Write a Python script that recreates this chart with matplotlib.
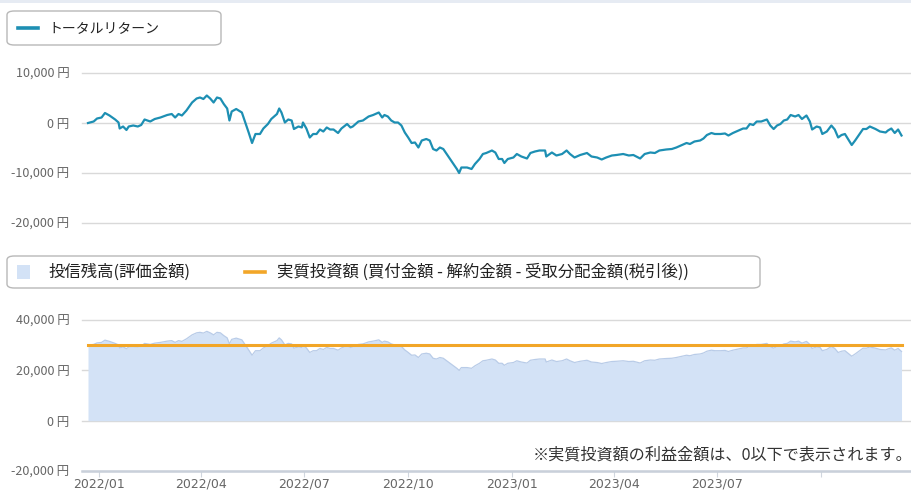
import datetime as dt

import matplotlib
matplotlib.use("Agg")
import matplotlib.dates as mdates
import matplotlib.pyplot as plt
import matplotlib.ticker as mticker
from matplotlib.lines import Line2D
from matplotlib.patches import FancyBboxPatch, Rectangle

plt.rcParams["font.family"] = ["Noto Sans CJK JP", "DejaVu Sans"]

# ---------------------------------------------------------------------------
# Data
# ---------------------------------------------------------------------------
START_DATE = dt.date(2021, 12, 22)

# days since START_DATE
DAY = [
    0, 5, 8, 12, 15, 19, 24, 27, 28, 31, 34, 36, 40, 44, 47, 50, 55, 59, 64, 70,
    74, 77, 80, 83, 87, 92, 96, 99, 102, 105, 108, 111, 114, 117, 120, 123, 125,
    127, 131, 136, 139, 142, 145, 148, 152, 155, 159, 162, 167, 169, 171, 174,
    177, 180, 182, 186, 189, 190, 193, 196, 199, 202, 205, 208, 211, 214, 217,
    221, 224, 229, 232, 234, 239, 243, 248, 252, 257, 260, 262, 265, 268, 271,
    274, 277, 280, 283, 286, 289, 292, 295, 299, 302, 305, 308, 311, 314, 317,
    320, 323, 326, 328, 330, 335, 339, 342, 346, 349, 352, 357, 360, 363, 366,
    368, 371, 376, 379, 383, 388, 391, 395, 399, 404, 405, 410, 414, 419, 423,
    426, 430, 435, 441, 445, 450, 454, 458, 463, 467, 473, 478, 482, 488, 492,
    497, 501, 505, 511, 516, 520, 525, 529, 532, 536, 541, 544, 547, 551, 554,
    559, 563, 566, 570, 575, 579, 582, 585, 588, 591, 595, 600, 603, 606, 609,
    612, 615, 618, 621, 625, 628, 631, 635, 638, 640, 644, 647, 649, 653, 657,
    660, 663, 666, 669, 672, 675, 678, 681, 685, 688, 691, 696, 700, 705, 707,
    710, 713, 716, 719,
]

# total return (円)
RETURN = [
    0, 300, 900, 1100, 2000, 1500, 700, 100, -1100, -700, -1400, -700, -500,
    -700, -400, 700, 300, 800, 1100, 1600, 1800, 1100, 1800, 1500, 2500, 4100,
    4900, 5100, 4800, 5500, 4900, 4100, 5100, 4900, 3800, 2900, 500, 2300, 2800,
    2100, 100, -1900, -4000, -2200, -2200, -1100, -200, 800, 1800, 2900, 2100,
    100, 700, 500, -1200, -700, -900, 100, -1100, -2900, -2200, -2200, -1300,
    -1700, -900, -1300, -1300, -2000, -1100, -200, -900, -700, 300, 500, 1300,
    1600, 2100, 1100, 1600, 1300, 500, 100, 100, -500, -1900, -2900, -4000,
    -3900, -4900, -3500, -3200, -3500, -5200, -5500, -4900, -5200, -6200, -7200,
    -8200, -9200, -10000, -8900, -8900, -9200, -8200, -7200, -6200, -6000,
    -5500, -5900, -7200, -7200, -8000, -7200, -6900, -6200, -6700, -7100, -6000,
    -5700, -5500, -5500, -6700, -5900, -6500, -6200, -5500, -6200, -6900, -6400,
    -6000, -6700, -6900, -7300, -6900, -6500, -6400, -6200, -6500, -6400, -7100,
    -6200, -5900, -6000, -5500, -5300, -5200, -4900, -4400, -4000, -4200, -3700,
    -3500, -3100, -2400, -2000, -2200, -2200, -2100, -2500, -2000, -1500, -1100,
    -1100, -200, -400, 300, 300, 700, -500, -1200, -500, -200, 500, 700, 1600,
    1300, 1600, 800, 1500, 300, -1300, -700, -900, -2200, -1700, -500, -1300,
    -2900, -2400, -2200, -3300, -4400, -3500, -2500, -1200, -1200, -700, -1200,
    -1700, -1900, -1500, -1100, -2000, -1300, -2500,
]

INVESTED = 30000  # 実質投資額

TOP_TICKS = [-20000, -10000, 0, 10000]
BOTTOM_TICKS = [-20000, 0, 20000, 40000]
X_TICKS = ["2022-01-01", "2022-04-01", "2022-07-01", "2022-10-01",
           "2023-01-01", "2023-04-01", "2023-07-01", "2023-10-01"]
X_LABELS = ["2022/01", "2022/04", "2022/07", "2022/10",
            "2023/01", "2023/04", "2023/07", ""]

LEGEND_TOP = "トータルリターン"
LEGEND_VAL = "投信残高(評価金額)"
LEGEND_INV = "実質投資額 (買付金額 - 解約金額 - 受取分配金額(税引後))"
NOTE = "※実質投資額の利益金額は、0以下で表示されます。"

# ---------------------------------------------------------------------------
# Styling
# ---------------------------------------------------------------------------
W, H = 911, 493
TEAL = "#1d8fb3"
ORANGE = "#f2a628"
FILL = "#d3e2f6"
FILL_EDGE = "#b9cce8"
GRID = "#d9d9d9"
TICK_TXT = "#666666"

dates = [START_DATE + dt.timedelta(days=d) for d in DAY]
# 評価金額 = 実質投資額 + トータルリターン
valuation = [INVESTED + r for r in RETURN]

x0 = mdates.date2num(START_DATE) - 5.3
x1 = mdates.date2num(START_DATE) + 726.5


def fx(px):
    return px / W


def fy(py):
    return 1 - py / H


def yen(v, _pos):
    return f"{int(v):,} 円"


fig = plt.figure(figsize=(W / 100, H / 100), dpi=100)
fig.patch.set_facecolor("white")

# faint strip at the very top
fig.add_artist(Rectangle((0, fy(3)), 1, 3 / H, transform=fig.transFigure,
                         facecolor="#e6ebf3", edgecolor="none"))

ax_top = fig.add_axes([fx(82), fy(223), fx(828), 150 / H])
ax_bot = fig.add_axes([fx(82), fy(471), fx(828), 151 / H])

# ---- top: total return ----------------------------------------------------
ax_top.plot(dates, RETURN, color=TEAL, linewidth=1.6, solid_joinstyle="round",
            zorder=3, clip_on=False)
ax_top.set_ylim(-20000, 10000)
ax_top.set_yticks(TOP_TICKS)

# ---- bottom: valuation + invested ----------------------------------------
ax_bot.fill_between(dates, valuation, 0, color=FILL, linewidth=0, zorder=2)
ax_bot.plot(dates, valuation, color=FILL_EDGE, linewidth=0.9, zorder=2)
ax_bot.plot([dates[0], dates[-1]], [INVESTED, INVESTED], color=ORANGE,
            linewidth=2.2, zorder=3)
ax_bot.set_ylim(-20000, 40000)
ax_bot.set_yticks(BOTTOM_TICKS)

for ax in (ax_top, ax_bot):
    ax.set_xlim(x0, x1)
    ax.yaxis.set_major_formatter(mticker.FuncFormatter(yen))
    ax.grid(axis="y", color=GRID, linewidth=1.0, zorder=1)
    ax.tick_params(axis="y", length=0, pad=9, labelsize=9, labelcolor=TICK_TXT)
    for s in ("top", "right", "left", "bottom"):
        ax.spines[s].set_visible(False)
    ax.set_axisbelow(True)
    for gl in ax.get_ygridlines():
        gl.set_clip_on(False)

ax_top.tick_params(axis="x", bottom=False, labelbottom=False)

ax_bot.spines["bottom"].set_visible(True)
ax_bot.spines["bottom"].set_color("#c9d0da")
ax_bot.spines["bottom"].set_linewidth(1.8)
ax_bot.set_xticks([mdates.datestr2num(d) for d in X_TICKS])
ax_bot.set_xticklabels(X_LABELS, family=["DejaVu Sans"])
ax_bot.tick_params(axis="x", length=4, width=0.8, color="#d0d6de",
                   labelsize=9, labelcolor=TICK_TXT, pad=1)

# ---- legends (drawn as boxes at fixed spots) ------------------------------
fig.add_artist(FancyBboxPatch((fx(7), fy(45)), fx(214), 34 / H,
                              boxstyle="round,pad=0,rounding_size=0.008",
                              transform=fig.transFigure, facecolor="white",
                              edgecolor="#b8b8b8", linewidth=1.0))
fig.add_artist(Line2D([fx(18), fx(38)], [fy(28), fy(28)], color=TEAL,
                      linewidth=2.6, transform=fig.transFigure))
fig.text(fx(48), fy(28), LEGEND_TOP, fontsize=10, color="#222222",
         va="center", ha="left")

fig.add_artist(FancyBboxPatch((fx(7), fy(288)), fx(753), 32 / H,
                              boxstyle="round,pad=0,rounding_size=0.008",
                              transform=fig.transFigure, facecolor="white",
                              edgecolor="#b8b8b8", linewidth=1.0))
fig.add_artist(Rectangle((fx(17), fy(279)), fx(13), 14 / H, facecolor=FILL,
                         edgecolor="none", transform=fig.transFigure))
fig.text(fx(48), fy(272), LEGEND_VAL, fontsize=11.8, color="#222222",
         va="center", ha="left")
fig.add_artist(Line2D([fx(245), fx(265)], [fy(272), fy(272)], color=ORANGE,
                      linewidth=2.6, transform=fig.transFigure))
fig.text(fx(277), fy(272), LEGEND_INV, fontsize=11.8, color="#222222",
         va="center", ha="left")

# ---- note -----------------------------------------------------------------
fig.text(fx(912), fy(455), NOTE, fontsize=11.6, color="#333333",
         va="center", ha="right")

fig.savefig("out.png", dpi=100, facecolor="white")
